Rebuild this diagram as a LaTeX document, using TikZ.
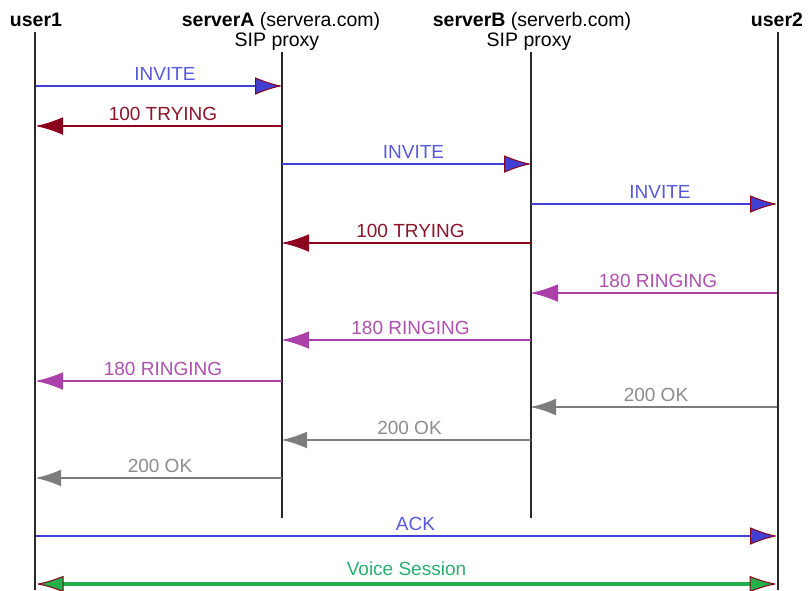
\documentclass[tikz,border=0pt]{standalone}
\usepackage{fontspec}
\setmainfont{Liberation Sans}
\usetikzlibrary{arrows.meta}
\definecolor{cblue}{RGB}{64,64,210}
\definecolor{cbluetxt}{RGB}{88,88,222}
\definecolor{cred}{RGB}{140,0,30}
\definecolor{credtxt}{RGB}{140,20,40}
\definecolor{cpurple}{RGB}{170,64,170}
\definecolor{cpurpletxt}{RGB}{175,80,175}
\definecolor{cgray}{RGB}{125,125,125}
\definecolor{cgraytxt}{RGB}{140,140,140}
\definecolor{cgreen}{RGB}{34,176,74}
\definecolor{cgreentxt}{RGB}{40,175,110}
\definecolor{cline}{RGB}{40,40,40}
\pgfdeclarearrow{
  name=FlagTip,
  parameters={\the\pgfarrowlength,\the\pgfarrowwidth,\the\pgfarrowlinewidth},
  setup code={
    \pgfarrowssettipend{0pt}
    \pgfarrowssetbackend{-\pgfarrowlength}
    \pgfarrowssetlineend{-.6\pgfarrowlength}
    \pgfarrowssavethe\pgfarrowlength
    \pgfarrowssavethe\pgfarrowwidth
    \pgfarrowssavethe\pgfarrowlinewidth
  },
  drawing code={
    \pgfsetdash{}{+0pt}
    \pgfsetlinewidth{\pgfarrowlinewidth}
    \pgfsetmiterjoin
    \pgfsetmiterlimit{4}
    \pgfpathmoveto{\pgfqpoint{0pt}{0pt}}
    \pgfpathcurveto{\pgfqpoint{-.35\pgfarrowlength}{.1\pgfarrowwidth}}{\pgfqpoint{-.7\pgfarrowlength}{.3\pgfarrowwidth}}{\pgfqpoint{-\pgfarrowlength}{.5\pgfarrowwidth}}
    \pgfpathlineto{\pgfqpoint{-\pgfarrowlength}{-.5\pgfarrowwidth}}
    \pgfpathcurveto{\pgfqpoint{-.7\pgfarrowlength}{-.3\pgfarrowwidth}}{\pgfqpoint{-.35\pgfarrowlength}{-.1\pgfarrowwidth}}{\pgfqpoint{0pt}{0pt}}
    \pgfpathclose
    \pgfusepathqfillstroke
  },
  defaults={length=25pt, width=16pt}
}
\tikzset{
  x=1pt, y=-1pt,
  lifeline/.style={draw=cline, line width=1.3pt},
  head/.style={inner sep=0pt, anchor=base, font=\fontsize{19.5}{22}\selectfont},
  lbl/.style={above, inner sep=0pt, yshift=5pt, font=\fontsize{19}{22}\selectfont},
  msg/.style={line width=1.2pt, shorten >=1.5pt},
  tipb/.style={-{FlagTip[fill=cblue,color=cred,line width=1pt]}},
  tipr/.style={-{FlagTip[fill=cred,color=cred,line width=1pt]}},
  tipp/.style={-{FlagTip[fill=cpurple,color=cpurple,line width=1pt]}},
  tipg/.style={-{FlagTip[length=23pt,width=15pt,fill=cgray,color=cgray,line width=1pt]}},
  inv/.style={msg, draw=cblue, tipb},
  try/.style={msg, draw=cred, tipr},
  ring/.style={msg, draw=cpurple, tipp},
  ok/.style={msg, draw=cgray, tipg},
  voice/.style={line width=4pt, draw=cgreen, shorten >=2pt, shorten <=2pt,
    {FlagTip[length=25pt,width=15pt,fill=cgreen,color=cred,line width=1pt]}-{FlagTip[length=25pt,width=15pt,fill=cgreen,color=cred,line width=1pt]}},
}
\begin{document}
\begin{tikzpicture}
\useasboundingbox (0,0) rectangle (809,590);
% headers
\node[head] (hU1) at (36,26) {\bfseries user1};
\node[head] (hSA) at (281,26) {\textbf{serverA} (servera.com)};
\node[head] (pSA) at (277,46) {SIP proxy};
\node[head] (hSB) at (532,26) {\textbf{serverB} (serverb.com)};
\node[head] (pSB) at (529,46) {SIP proxy};
\node[head] (hU2) at (777,26) {\bfseries user2};
% lifelines
\coordinate (U1t) at (35,32);  \coordinate (U1b) at (35,590);
\coordinate (SAt) at (282,52); \coordinate (SAb) at (282,518);
\coordinate (SBt) at (531,52); \coordinate (SBb) at (531,518);
\coordinate (U2t) at (778,32); \coordinate (U2b) at (778,590);
\draw[lifeline] (U1t) -- (U1b);
\draw[lifeline] (SAt) -- (SAb);
\draw[lifeline] (SBt) -- (SBb);
\draw[lifeline] (U2t) -- (U2b);
% message anchor points on lifelines
\foreach \i/\y in {1/86,2/126,3/164,4/204,5/243,6/293,7/340,8/381,9/407,10/440,11/478,12/536,13/584}{
  \coordinate (u1-\i) at (36,\y);
  \coordinate (sa-\i) at (282,\y);
  \coordinate (sb-\i) at (531,\y);
  \coordinate (u2-\i) at (777,\y);
}
% messages
\draw[inv] (u1-1) -- node[lbl, xshift=6pt, text=cbluetxt] {INVITE} (sa-1);
\draw[try] (sa-2) -- node[lbl, xshift=4pt, text=credtxt] {100 TRYING} (u1-2);
\draw[inv] (sa-3) -- node[lbl, xshift=7pt, text=cbluetxt] {INVITE} (sb-3);
\draw[inv] (sb-4) -- node[lbl, xshift=6pt, text=cbluetxt] {INVITE} (u2-4);
\draw[try] (sb-5) -- node[lbl, xshift=4pt, text=credtxt] {100 TRYING} (sa-5);
\draw[ring] (u2-6) -- node[lbl, xshift=4pt, text=cpurpletxt] {180 RINGING} (sb-6);
\draw[ring] (sb-7) -- node[lbl, xshift=4pt, text=cpurpletxt] {180 RINGING} (sa-7);
\draw[ring] (sa-8) -- node[lbl, xshift=4pt, text=cpurpletxt] {180 RINGING} (u1-8);
\draw[ok] (u2-9) -- node[lbl, xshift=2pt, text=cgraytxt] {200 OK} (sb-9);
\draw[ok] (sb-10) -- node[lbl, xshift=3pt, text=cgraytxt] {200 OK} (sa-10);
\draw[ok] (sa-11) -- node[lbl, xshift=1pt, text=cgraytxt] {200 OK} (u1-11);
\draw[inv] (u1-12) -- node[lbl, xshift=9pt, text=cbluetxt] {ACK} (u2-12);
\draw[voice] (u1-13) -- node[lbl, yshift=1pt, text=cgreentxt] {Voice Session} (u2-13);
\end{tikzpicture}
\end{document}
